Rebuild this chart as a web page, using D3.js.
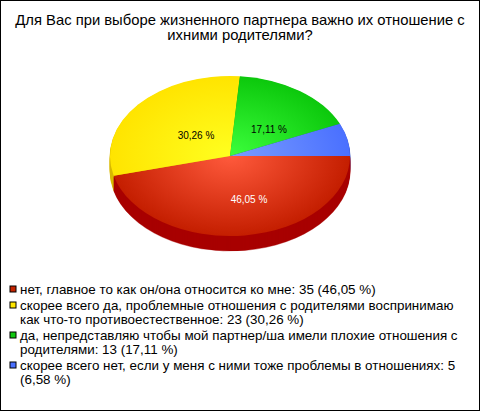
<!DOCTYPE html>
<html><head><meta charset="utf-8">
<script src="https://cdn.jsdelivr.net/npm/d3@7/dist/d3.min.js"></script>
<style>html,body{margin:0;padding:0;background:#fff}svg{display:block}text{font-family:"Liberation Sans",Arial,sans-serif}</style>
</head><body><svg id="c" width="480" height="411"></svg>
<script>
const titleLines = ["Для Вас при выборе жизненного партнера важно их отношение с","ихними родителями?"];
const categories = ["нет","скорее всего да","да","скорее всего нет"];
const values = [35,23,13,5];
const pctLabels = ["46,05 %","30,26 %","17,11 %",""];
const legendLines = [
 ["нет, главное то как он/она относится ко мне: 35 (46,05 %)"],
 ["скорее всего да, проблемные отношения с родителями воспринимаю","как что-то противоестественное: 23 (30,26 %)"],
 ["да, непредставляю чтобы мой партнер/ша имели плохие отношения с","родителями: 13 (17,11 %)"],
 ["скорее всего нет, если у меня с ними тоже проблемы в отношениях: 5","(6,58 %)"]
];
const colors = {light:["#ff5a3c","#ffff20","#3cff3c","#7a9dff"],dark:["#c41e00","#ffe400","#0cc80c","#4a70ff"],side:["#a80000","#d8b800","#0a900a","#3050c0"],key:["#c42400","#ffe600","#10c810","#4a70ff"],label:["#fff","#000","#000","#000"]};
const labelOffset = [[19,43],[-34,-21],[39,-27],[0,0]];

const W=480,H=411,cx=230,cy=156,rx=120,ry=80,depth=15;
const svg=d3.select("#c");
svg.append("rect").attr("x",.5).attr("y",.5).attr("width",W-1).attr("height",H-1).attr("fill","#fff").attr("stroke","#000");
const defs=svg.append("defs");
categories.forEach((c,i)=>{
  const g=defs.append("radialGradient").attr("id","g"+i).attr("gradientUnits","userSpaceOnUse").attr("cx",0).attr("cy",0).attr("r",rx);
  g.append("stop").attr("offset","0%").attr("stop-color",colors.light[i]);
  g.append("stop").attr("offset","100%").attr("stop-color",colors.dark[i]);
});
svg.selectAll("text.title").data(titleLines).join("text").attr("class","title")
  .attr("x",W/2).attr("y",(d,i)=>25+i*15).attr("text-anchor","middle").attr("font-size",14.8).attr("fill","#000").text(d=>d);

const pie=d3.pie().sort(null).startAngle(Math.PI/2).endAngle(Math.PI*2.5);
const arcs=pie(values);
const arc=d3.arc().innerRadius(0).outerRadius(rx);
const sy=ry/rx;
const side=svg.append("g");
d3.range(depth,0,-1).forEach(dy=>{
  side.append("g").attr("transform",`translate(${cx},${cy+dy}) scale(1,${sy})`)
    .selectAll("path").data(arcs).join("path").attr("d",arc).attr("fill",(d,i)=>colors.side[i]).attr("stroke",(d,i)=>colors.side[i]).attr("stroke-width",.5);
});
svg.append("g").attr("transform",`translate(${cx},${cy}) scale(1,${sy})`)
  .selectAll("path").data(arcs).join("path").attr("d",arc).attr("fill",(d,i)=>`url(#g${i})`);
svg.selectAll("text.pct").data(pctLabels).join("text").attr("class","pct")
  .attr("x",(d,i)=>cx+labelOffset[i][0]).attr("y",(d,i)=>cy+labelOffset[i][1]+4)
  .attr("text-anchor","middle").attr("font-size",10).attr("fill",(d,i)=>colors.label[i]).text(d=>d);

let y=294;
const lh=14, gap=2;
legendLines.forEach((lines,i)=>{
  svg.append("rect").attr("x",10).attr("y",y-8).attr("width",6).attr("height",6).attr("fill",colors.key[i]).attr("stroke","#000");
  lines.forEach((t,j)=>svg.append("text").attr("x",20).attr("y",y+j*lh).attr("font-size",13.4).attr("fill","#000").text(t));
  y+=lines.length*lh+gap;
});
</script></body></html>
